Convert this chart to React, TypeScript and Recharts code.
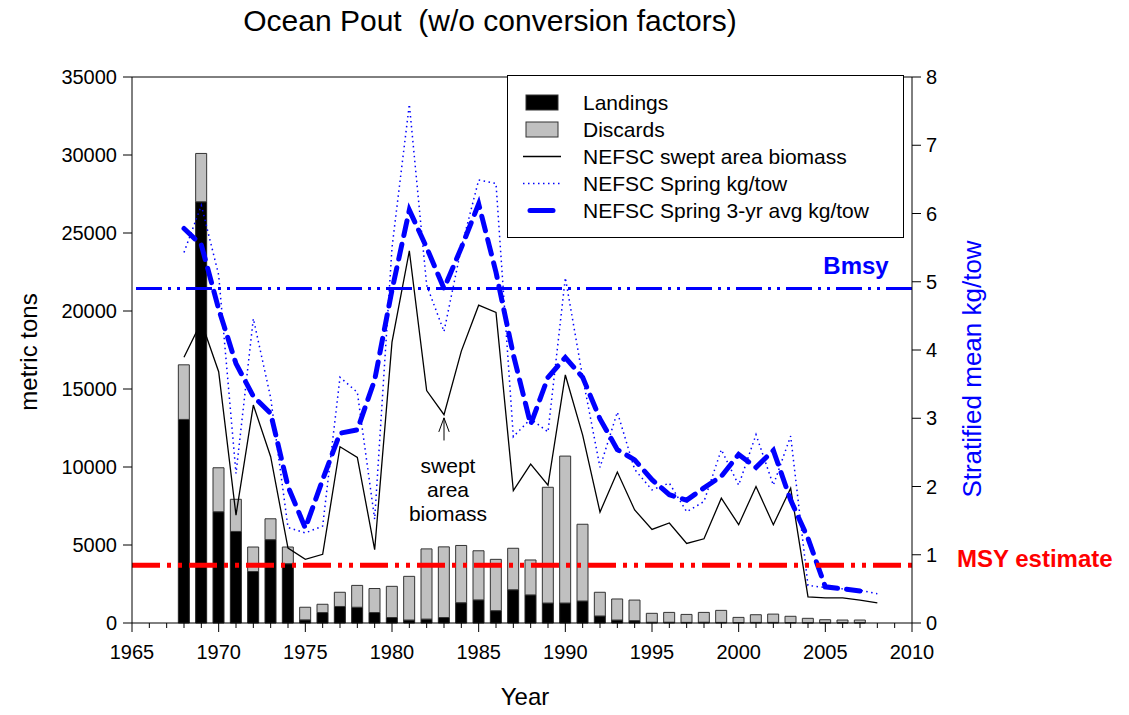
import React from 'react';
import {
  ComposedChart,
  Bar,
  Line,
  XAxis,
  YAxis,
  ReferenceLine,
} from 'recharts';

const years = [
  1968, 1969, 1970, 1971, 1972, 1973, 1974, 1975, 1976, 1977, 1978, 1979,
  1980, 1981, 1982, 1983, 1984, 1985, 1986, 1987, 1988, 1989, 1990, 1991,
  1992, 1993, 1994, 1995, 1996, 1997, 1998, 1999, 2000, 2001, 2002, 2003,
  2004, 2005, 2006, 2007, 2008,
];
// metric tons
const landings = [
  13050, 27000, 7130, 5870, 3300, 5340, 3800, 200, 670, 1060, 1010, 670,
  350, 190, 250, 350, 1300, 1480, 790, 2130, 1800, 1280, 1280, 1410,
  450, 190, 150, 50, 50, 40, 50, 40, 30, 40, 40, 30,
  20, 20, 20, 20, null,
];
const discards = [
  3500, 3100, 2820, 2060, 1570, 1340, 1070, 810, 530, 910, 1400, 1540,
  2000, 2800, 4500, 4530, 3670, 3150, 3290, 2660, 2240, 7420, 9420, 4920,
  1520, 1350, 1320, 570, 630, 510, 630, 770, 330, 490, 530, 400,
  280, 190, 170, 170, null,
];
const sweptArea = [
  17030, 19300, 16110, 6920, 13970, 10660, 4800, 4080, 4400, 11300, 10620, 4700,
  18000, 23850, 14900, 13350, 17430, 20370, 19910, 8490, 10180, 8830, 15900, 12040,
  7110, 9680, 7250, 6000, 6410, 5100, 5400, 8000, 6300, 8750, 6300, 8640,
  1670, 1610, 1610, 1460, 1290,
];
// kg/tow
const springKgTow = [
  5.43, 6.12, 5.1, 2.19, 4.46, 3.3, 1.4, 1.32, 1.42, 3.6, 3.38, 1.52,
  5.5, 7.6, 4.95, 4.27, 5.5, 6.49, 6.44, 2.73, 2.99, 2.8, 5.06, 3.6,
  2.28, 3.09, 2.25, 1.95, 2.05, 1.63, 1.78, 2.54, 2.02, 2.76, 2.02, 2.74,
  0.55, 0.52, 0.5, 0.48, 0.43,
];
const spring3yrAvg = [
  5.78, 5.54, 4.6, 3.8, 3.32, 3.07, 2.0, 1.39, 2.1, 2.78, 2.83, 3.56,
  4.88, 6.05, 5.5, 4.9, 5.5, 6.14, 5.14, 3.93, 2.91, 3.6, 3.89, 3.6,
  2.99, 2.54, 2.39, 2.1, 1.88, 1.8, 1.98, 2.15, 2.47, 2.28, 2.53, 1.8,
  1.24, 0.53, 0.5, 0.47, null,
];

const BMSY = 4.9; // kg/tow
const MSY = 3700; // metric tons

const yearTicks = [
  1965, 1966, 1967, 1968, 1969, 1970, 1971, 1972, 1973, 1974, 1975, 1976,
  1977, 1978, 1979, 1980, 1981, 1982, 1983, 1984, 1985, 1986, 1987, 1988,
  1989, 1990, 1991, 1992, 1993, 1994, 1995, 1996, 1997, 1998, 1999, 2000,
  2001, 2002, 2003, 2004, 2005, 2006, 2007, 2008, 2009, 2010,
];
const tonTicks = [0, 5000, 10000, 15000, 20000, 25000, 30000, 35000];
const kgTicks = [0, 1, 2, 3, 4, 5, 6, 7, 8];

const data = years.map((year, i) => ({
  year,
  landings: landings[i],
  discards: discards[i],
  swept: sweptArea[i],
  spring: springKgTow[i],
  avg3: spring3yrAvg[i],
}));

const FONT = 'Arial, "Liberation Sans", sans-serif';
const BLUE = '#0000ff';
const RED = '#ff0000';

const YearTick = (props: any) => {
  const { x, y, payload } = props;
  const major = payload.value % 5 === 0;
  return (
    <g>
      <line x1={x} y1={y} x2={x} y2={y + (major ? 9 : 5)} stroke="#000" strokeWidth={1} />
      {major && (
        <text x={x} y={y + 36} textAnchor="middle" fontSize={20} fontFamily={FONT} fill="#000">
          {payload.value}
        </text>
      )}
    </g>
  );
};

const LeftTick = (props: any) => {
  const { x, y, payload } = props;
  return (
    <g>
      <line x1={x} y1={y} x2={x - 9} y2={y} stroke="#000" strokeWidth={1} />
      <text x={x - 15} y={y + 7} textAnchor="end" fontSize={20} fontFamily={FONT} fill="#000">
        {payload.value}
      </text>
    </g>
  );
};

const RightTick = (props: any) => {
  const { x, y, payload } = props;
  return (
    <g>
      <line x1={x} y1={y} x2={x + 9} y2={y} stroke="#000" strokeWidth={1} />
      <text x={x + 14} y={y + 7} textAnchor="start" fontSize={20} fontFamily={FONT} fill="#000">
        {payload.value}
      </text>
    </g>
  );
};

const legendItems = [
  { label: 'Landings', kind: 'box', fill: '#000' },
  { label: 'Discards', kind: 'box', fill: '#c0c0c0' },
  { label: 'NEFSC swept area biomass', kind: 'solid' },
  { label: 'NEFSC Spring kg/tow', kind: 'dotted' },
  { label: 'NEFSC Spring 3-yr avg kg/tow', kind: 'dashed' },
];

const LegendBox = () => (
  <div
    style={{
      position: 'absolute',
      left: 507,
      top: 75,
      width: 397,
      height: 163,
      border: '1px solid #000',
      background: '#fff',
      boxSizing: 'border-box',
      paddingTop: 13,
      fontFamily: FONT,
      fontSize: 21,
      color: '#000',
      pointerEvents: 'none',
    }}
  >
    {legendItems.map((it) => (
      <div key={it.label} style={{ display: 'flex', alignItems: 'center', height: 27 }}>
        <svg width={75} height={27} style={{ flex: 'none' }}>
          {it.kind === 'box' && (
            <rect x={18} y={6} width={32} height={15} fill={it.fill} stroke="#333" strokeWidth={1} />
          )}
          {it.kind === 'solid' && <line x1={15} x2={53} y1={13.5} y2={13.5} stroke="#000" strokeWidth={1.3} />}
          {it.kind === 'dotted' && (
            <line x1={15} x2={53} y1={13.5} y2={13.5} stroke={BLUE} strokeWidth={1.5} strokeDasharray="1.5 3.5" />
          )}
          {it.kind === 'dashed' && (
            <line x1={22} x2={45} y1={13.5} y2={13.5} stroke={BLUE} strokeWidth={5} strokeLinecap="round" />
          )}
        </svg>
        <span style={{ whiteSpace: 'nowrap' }}>{it.label}</span>
      </div>
    ))}
  </div>
);

export default function App() {
  return (
    <div style={{ position: 'absolute', left: 0, top: 0, width: 1129, height: 715, background: '#fff' }}>
      <ComposedChart
        width={1129}
        height={715}
        data={data}
        margin={{ top: 77, right: 157, bottom: 52, left: 72 }}
      >
        <XAxis
          dataKey="year"
          type="number"
          domain={[1965, 2010]}
          ticks={yearTicks}
          interval={0}
          height={40}
          tickSize={0}
          tickMargin={0}
          tickLine={false}
          axisLine={{ stroke: '#000', strokeWidth: 1 }}
          tick={<YearTick />}
          allowDataOverflow
        />
        <YAxis
          yAxisId="left"
          domain={[0, 35000]}
          ticks={tonTicks}
          interval={0}
          width={60}
          tickSize={0}
          tickMargin={0}
          tickLine={false}
          axisLine={{ stroke: '#000', strokeWidth: 1 }}
          tick={<LeftTick />}
        />
        <YAxis
          yAxisId="right"
          orientation="right"
          domain={[0, 8]}
          ticks={kgTicks}
          interval={0}
          width={60}
          tickSize={0}
          tickMargin={0}
          tickLine={false}
          axisLine={{ stroke: '#000', strokeWidth: 1 }}
          tick={<RightTick />}
        />
        <ReferenceLine yAxisId="left" y={35000} stroke="#000" strokeWidth={1} />
        <Bar
          yAxisId="left"
          dataKey="landings"
          stackId="catch"
          barSize={11}
          fill="#000"
          stroke="#222"
          strokeWidth={1}
          isAnimationActive={false}
        />
        <Bar
          yAxisId="left"
          dataKey="discards"
          stackId="catch"
          barSize={11}
          fill="#c0c0c0"
          stroke="#333"
          strokeWidth={1}
          isAnimationActive={false}
        />
        <Line
          yAxisId="left"
          dataKey="swept"
          type="linear"
          stroke="#000"
          strokeWidth={1.3}
          dot={false}
          isAnimationActive={false}
        />
        <Line
          yAxisId="right"
          dataKey="spring"
          type="linear"
          stroke={BLUE}
          strokeWidth={1.5}
          strokeDasharray="1.5 3.5"
          dot={false}
          isAnimationActive={false}
        />
        <Line
          yAxisId="right"
          dataKey="avg3"
          type="linear"
          stroke={BLUE}
          strokeWidth={5}
          strokeDasharray="15 9"
          strokeLinecap="round"
          dot={false}
          isAnimationActive={false}
        />
        <ReferenceLine
          yAxisId="right"
          y={BMSY}
          stroke={BLUE}
          strokeWidth={3}
          strokeDasharray="26 6 3 6 3 6"
        />
        <ReferenceLine
          yAxisId="left"
          y={MSY}
          stroke={RED}
          strokeWidth={5}
          strokeDasharray="28 7 4 7 4 7"
        />
        {/* arrow pointing at the 1983 swept area value */}
        <ReferenceLine
          yAxisId="left"
          segment={[{ x: 1983, y: 11700 }, { x: 1983, y: 13150 }]}
          stroke="#000"
          strokeWidth={1}
        />
        <ReferenceLine
          yAxisId="left"
          segment={[{ x: 1982.7, y: 12250 }, { x: 1983, y: 13150 }]}
          stroke="#000"
          strokeWidth={1}
        />
        <ReferenceLine
          yAxisId="left"
          segment={[{ x: 1983.3, y: 12250 }, { x: 1983, y: 13150 }]}
          stroke="#000"
          strokeWidth={1}
        />
      </ComposedChart>
      <LegendBox />
      <svg
        width={1129}
        height={715}
        style={{ position: 'absolute', left: 0, top: 0, pointerEvents: 'none' }}
        fontFamily={FONT}
      >
        <text x={490} y={31} textAnchor="middle" fontSize={30} style={{ whiteSpace: 'pre' }}>
          {'Ocean Pout  (w/o conversion factors)'}
        </text>
        <text x={525} y={705} textAnchor="middle" fontSize={24}>
          Year
        </text>
        <text transform="translate(37,352) rotate(-90)" textAnchor="middle" fontSize={24}>
          metric tons
        </text>
        <text transform="translate(981,369) rotate(-90)" textAnchor="middle" fontSize={26} fill={BLUE}>
          Stratified mean kg/tow
        </text>
        <text x={856} y={274} textAnchor="middle" fontSize={24} fontWeight="bold" fill={BLUE}>
          Bmsy
        </text>
        <text x={957} y={567} textAnchor="start" fontSize={24} fontWeight="bold" fill={RED}>
          MSY estimate
        </text>
        <text x={448} y={473} textAnchor="middle" fontSize={21}>swept</text>
        <text x={448} y={497} textAnchor="middle" fontSize={21}>area</text>
        <text x={448} y={521} textAnchor="middle" fontSize={21}>biomass</text>
      </svg>
    </div>
  );
}
